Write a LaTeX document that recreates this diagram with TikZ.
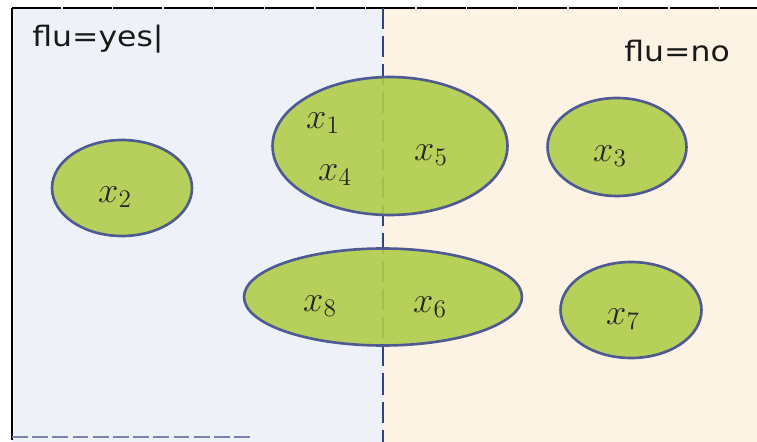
\documentclass[tikz,border=0pt]{standalone}
\usepackage{fontspec}
\newfontfamily\labfont{DejaVu Sans}
\usetikzlibrary{positioning,shapes.geometric}
\definecolor{yesbg}{RGB}{238,241,248}
\definecolor{nobg}{RGB}{252,243,228}
\definecolor{blobfill}{RGB}{176,205,74}
\definecolor{blobedge}{RGB}{78,90,145}
\definecolor{splitcol}{RGB}{46,70,120}
\tikzset{
  blob/.style={ellipse, draw=blobedge, line width=1.5pt, fill=blobfill,
               fill opacity=0.9, inner sep=0pt},
  elt/.style={font=\fontsize{20}{24}\selectfont, text=black!85},
  side/.style={font=\labfont\fontsize{16}{19}\selectfont, text=black!90,
               anchor=base west, inner sep=0pt, xscale=1.12},
  split/.style={draw=splitcol, line width=1pt, dash pattern=on 12pt off 4pt},
}

\begin{document}
\begin{tikzpicture}[x=0.02cm,y=-0.02cm]
  \useasboundingbox (0,0) rectangle (757,442);
  \fill[yesbg] (12,8) rectangle (383,442);
  \fill[nobg] (383,8) rectangle (757,442);
  \coordinate (ftop) at (12,8);
  \coordinate (fbot) at (12,440);
  \coordinate (ftr) at (757,8);
  \coordinate (stop) at (383,8);
  \coordinate (sbot) at (383,442);
  \coordinate (bl) at (12,437);
  \coordinate (br) at (250,437);
  \draw[black, line width=1pt] (ftop) -- (fbot);
  \draw[black, line width=1.3pt, dash pattern=on 28pt off 0.8pt] (ftop) -- (ftr);
  \draw[blobedge!75, line width=1.6pt, dash pattern=on 9pt off 2.5pt] (bl) -- (br);
  \draw[split] (stop) -- (sbot);

  \node[side] (yes) at (32,47) {flu=yes|};
  \node[side] (no) at (624,62) {flu=no};

  \node[blob, minimum width=2.8cm, minimum height=1.92cm] (e2) at (122,188) {};
  \node[blob, minimum width=4.7cm, minimum height=2.76cm] (e145) at (390,146) {};
  \node[blob, minimum width=2.78cm, minimum height=1.96cm] (e3) at (617,147) {};
  \node[blob, minimum width=5.56cm, minimum height=1.94cm] (e86) at (383,297) {};
  \node[blob, minimum width=2.82cm, minimum height=1.92cm] (e7) at (631,310) {};

  \node[elt] (x1) at (323,123) {$x_1$};
  \node[elt] (x4) at (335,175) {$x_4$};
  \node[elt] (x5) at (431,155) {$x_5$};
  \node[elt] (x2) at (115,197) {$x_2$};
  \node[elt] (x3) at (610,156) {$x_3$};
  \node[elt] (x8) at (320,306) {$x_8$};
  \node[elt] (x6) at (430,307) {$x_6$};
  \node[elt] (x7) at (623,319) {$x_7$};
\end{tikzpicture}
\end{document}
